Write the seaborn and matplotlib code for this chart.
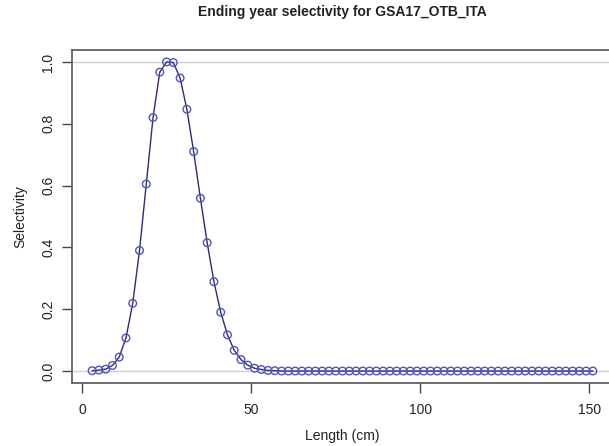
import matplotlib
matplotlib.use("Agg")
import matplotlib.pyplot as plt
import seaborn as sns
import numpy as np
import pandas as pd

# Data
length_cm = [3, 5, 7, 9, 11, 13, 15, 17, 19, 21, 23, 25, 27, 29, 31, 33, 35, 37, 39,
             41, 43, 45, 47, 49, 51, 53, 55, 57, 59, 61, 63, 65, 67, 69, 71, 73, 75,
             77, 79, 81, 83, 85, 87, 89, 91, 93, 95, 97, 99, 101, 103, 105, 107, 109,
             111, 113, 115, 117, 119, 121, 123, 125, 127, 129, 131, 133, 135, 137,
             139, 141, 143, 145, 147, 149, 151]
selectivity = [0.001, 0.003, 0.006, 0.018, 0.045, 0.107, 0.219, 0.39, 0.605, 0.82,
               0.967, 1.0, 0.998, 0.948, 0.847, 0.71, 0.559, 0.415, 0.289, 0.19,
               0.117, 0.067, 0.037, 0.019, 0.009, 0.005, 0.002, 0.001] + [0.0] * 47
x_ticks = [0, 50, 100, 150]
y_ticks = [0.0, 0.2, 0.4, 0.6, 0.8, 1.0]
y_tick_labels = ["0.0", "0.2", "0.4", "0.6", "0.8", "1.0"]
title = "Ending year selectivity for GSA17_OTB_ITA"
x_label = "Length (cm)"
y_label = "Selectivity"

df = pd.DataFrame({"Length": length_cm, "Selectivity": selectivity})

sns.set_style("white")
plt.rcParams["font.family"] = ["Liberation Sans", "DejaVu Sans"]

fig = plt.figure(figsize=(6.09, 4.46), dpi=100)
ax = fig.add_axes([0.1184, 0.1404, 1.0064 - 0.1184, 0.8888 - 0.1404])

ax.axhline(0, color="#cfcfcf", lw=1.0, zorder=1)
ax.axhline(1, color="#cfcfcf", lw=1.0, zorder=1)

sns.lineplot(data=df, x="Length", y="Selectivity", ax=ax, color="#2b2b80",
             lw=1.0, zorder=2)
sns.scatterplot(data=df, x="Length", y="Selectivity", ax=ax, marker="o",
                facecolor="none", edgecolor="#5252c0", s=30, linewidth=1.0,
                zorder=3)

ax.set_xlim(-2.92, 156.92)
ax.set_ylim(-0.04, 1.04)
ax.set_xticks(x_ticks)
ax.set_yticks(y_ticks)
ax.set_yticklabels(y_tick_labels, rotation=90, va="center")
ax.tick_params(axis="both", direction="out", length=7, width=1.0,
               color="#444444", labelsize=10, labelcolor="#222222",
               left=True, bottom=True)
ax.tick_params(axis="x", pad=7)
ax.tick_params(axis="y", pad=5)

for s in ax.spines.values():
    s.set_color("#555555")
    s.set_linewidth(1.2)

ax.set_xlabel(x_label, fontsize=10, color="#222222", labelpad=9)
ax.set_ylabel(y_label, fontsize=10, color="#222222", labelpad=10)
fig.text(0.5616, 0.972, title, ha="center", va="center", fontsize=10,
         fontweight="bold", color="#222222")

fig.savefig("out.png", dpi=100)
